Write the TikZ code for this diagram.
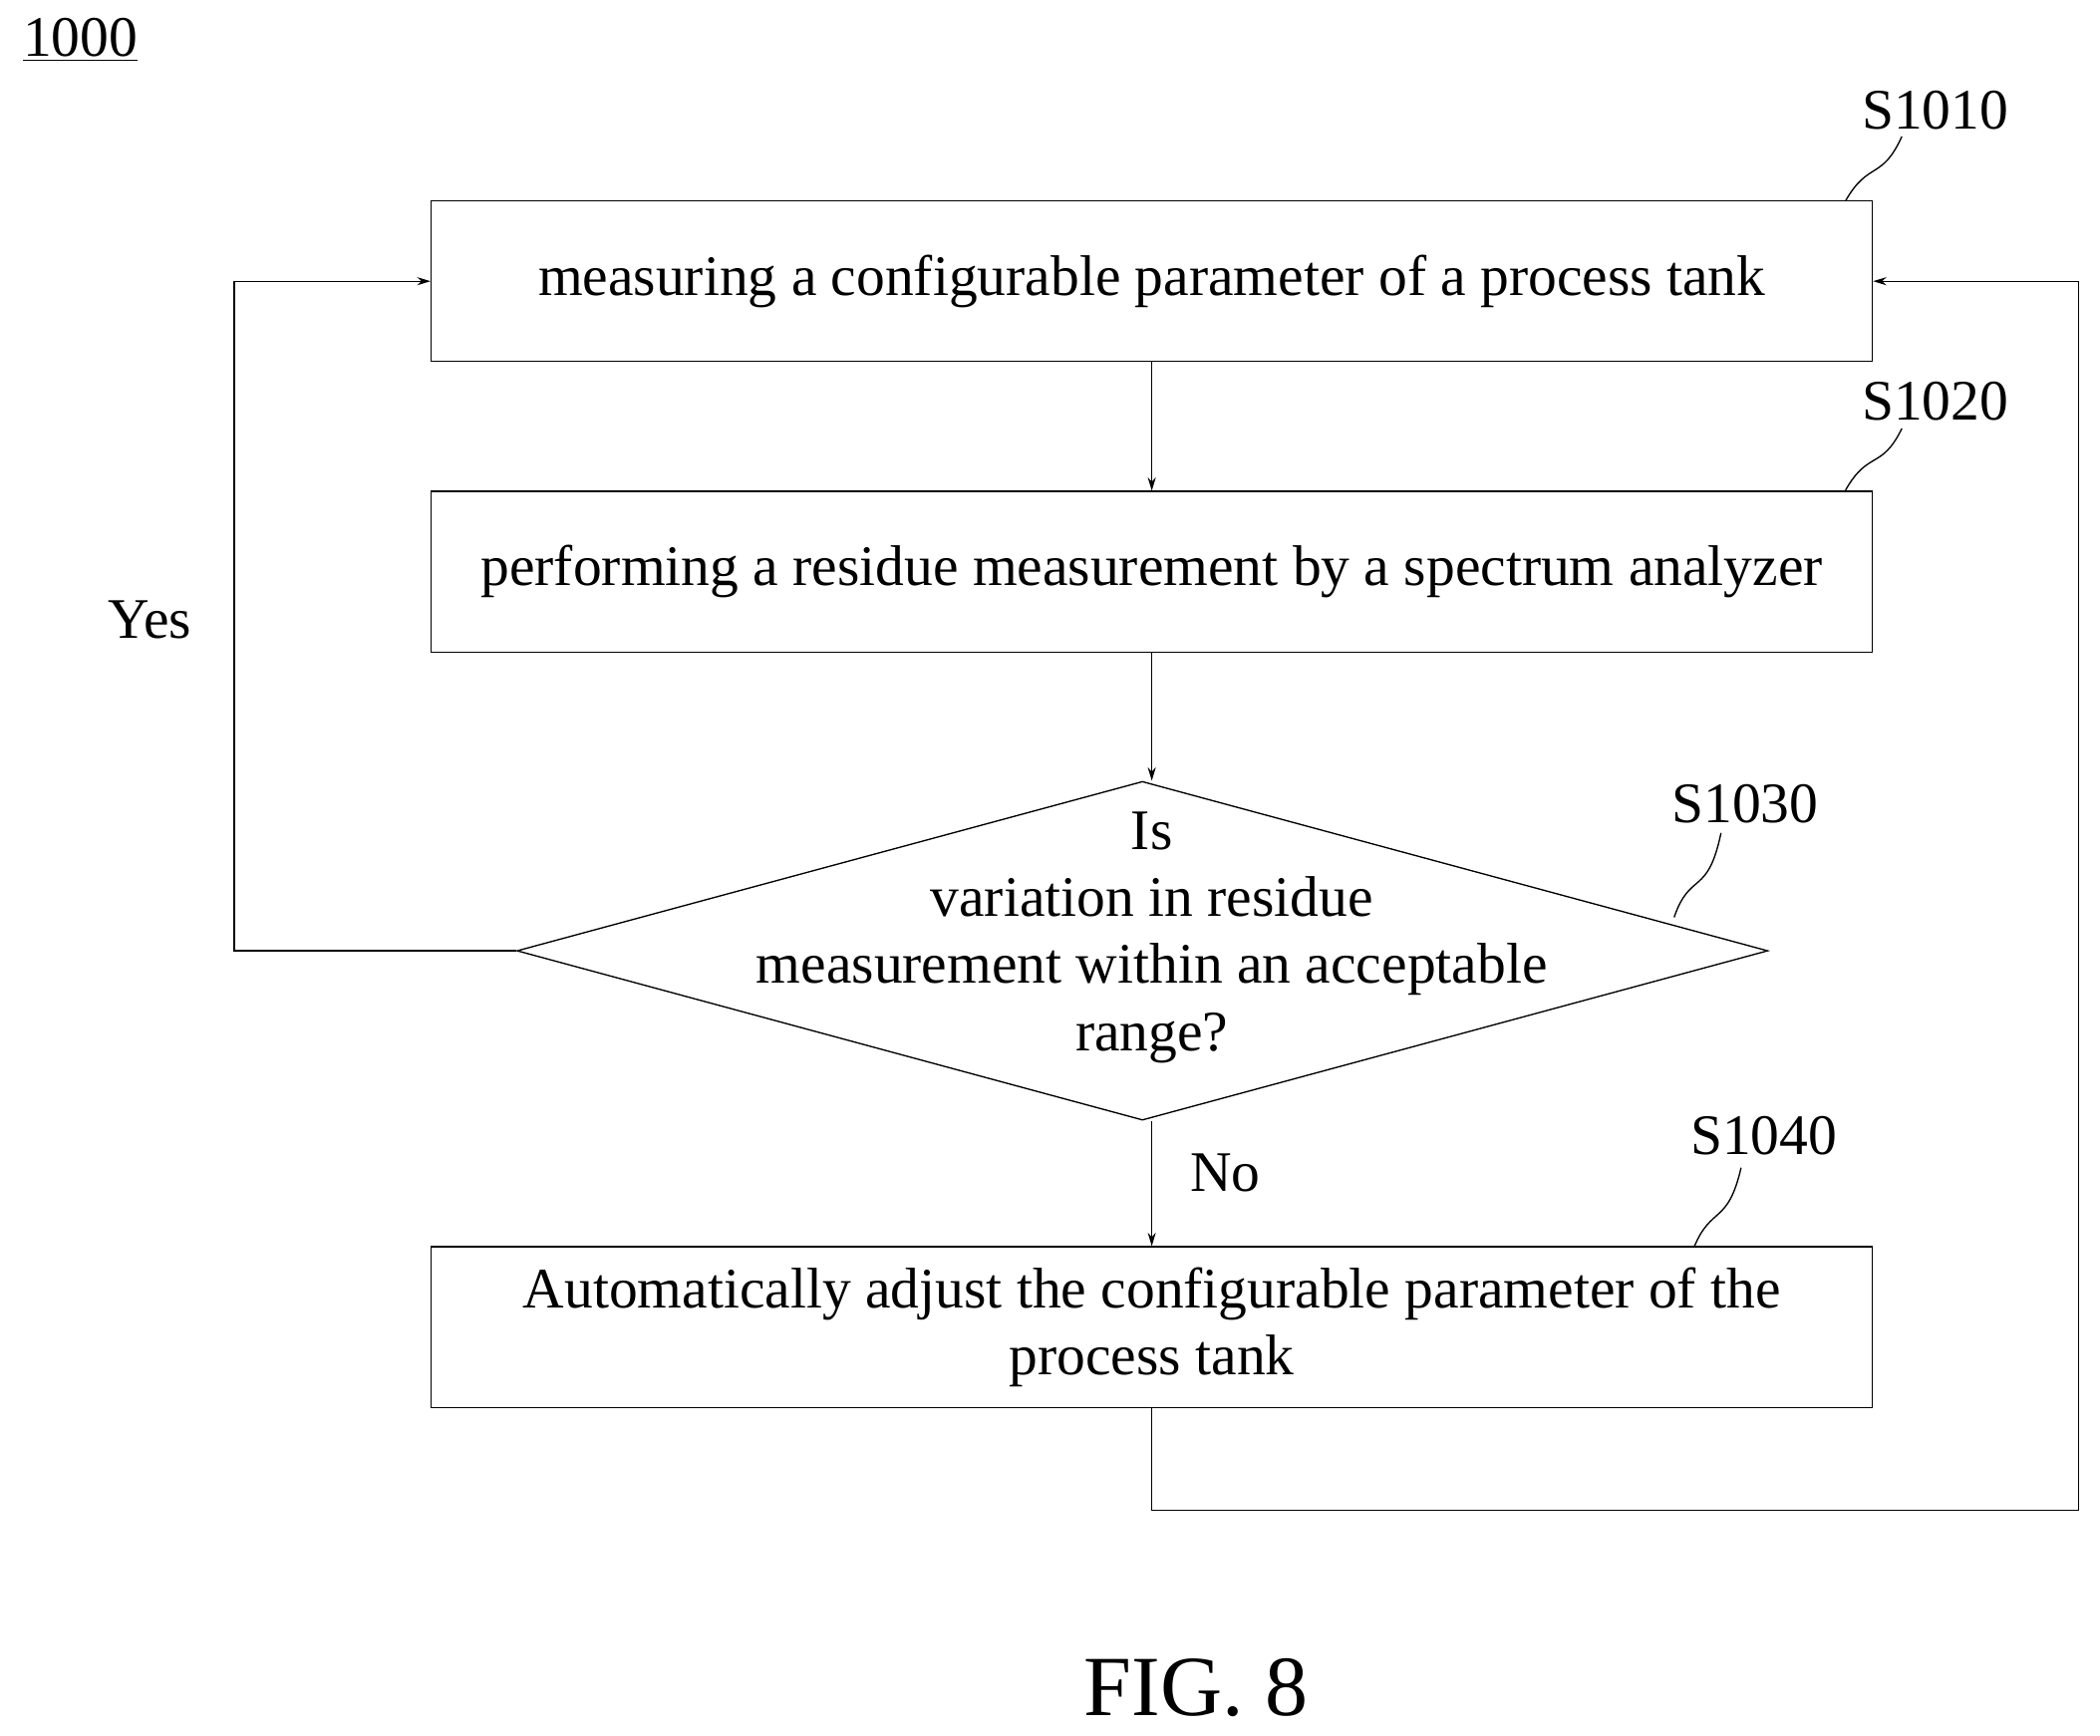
\documentclass[tikz,border=0pt]{standalone}
\usepackage{fontspec}
\setmainfont{Liberation Serif}
\usetikzlibrary{arrows.meta,shapes.geometric}
\begin{document}
\begin{tikzpicture}[x=0.5pt,y=-0.5pt,
  box/.style={draw,line width=0.5pt,minimum width=538pt,minimum height=60pt,font=\fontsize{21.4}{25}\selectfont,align=center},
  lbl/.style={font=\fontsize{21.4}{25}\selectfont},
  conn/.style={line width=0.5pt,-{Stealth[length=5pt,width=3pt]}},
  sq/.style={line width=0.5pt}]
\useasboundingbox (0,0) rectangle (1568,1296);
\node[box] (b1) at (860,210) {measuring a configurable parameter of a process tank};
\node[box] (b2) at (860,427) {performing a residue measurement by a spectrum analyzer};
\node[draw,line width=0.5pt,diamond,minimum width=467pt,minimum height=126.5pt,inner sep=0pt] (d) at (853,710) {};
\node[lbl,align=center] (dt) at (860,700) {Is\\variation in residue\\measurement within an acceptable\\range?};
\node[box] (b4) at (860,991) {Automatically adjust the configurable parameter of the\\process tank};
\draw[conn] (b1) -- (b2);
\draw[conn] (b2) -- (b2 |- d.north);
\draw[conn] (b2 |- d.south) -- (b4);
\coordinate (yl1) at (175,710); \coordinate (yl2) at (175,210);
\draw[conn] (d.west) -- (yl1) -- (yl2) -- (b1.west);
\coordinate (r1) at (860,1128); \coordinate (r2) at (1552,1128); \coordinate (r3) at (1552,210);
\draw[conn] (b4.south) -- (r1) -- (r2) -- (r3) -- (b1.east);
\node[lbl] (yes) at (112,463) {Yes};
\node[lbl] (no) at (915,876) {No};
\node[lbl] (s1) at (1445,82) {S1010};
\node[lbl] (s2) at (1445,300) {S1020};
\node[lbl] (s3) at (1303,600) {S1030};
\node[lbl] (s4) at (1317,848) {S1040};
\draw[sq] (1378,150) .. controls (1395,120) and (1405,135) .. (1420,102);
\draw[sq] (1378,366) .. controls (1395,336) and (1405,351) .. (1420,320);
\draw[sq] (1250,685) .. controls (1262,650) and (1275,670) .. (1285,622);
\draw[sq] (1265,931) .. controls (1278,900) and (1290,915) .. (1300,872);
\node[lbl] (n1000) at (60,30) {\underline{1000}};
\node[font=\fontsize{32}{38}\selectfont] (fig) at (893,1260) {FIG. 8};
\end{tikzpicture}
\end{document}
